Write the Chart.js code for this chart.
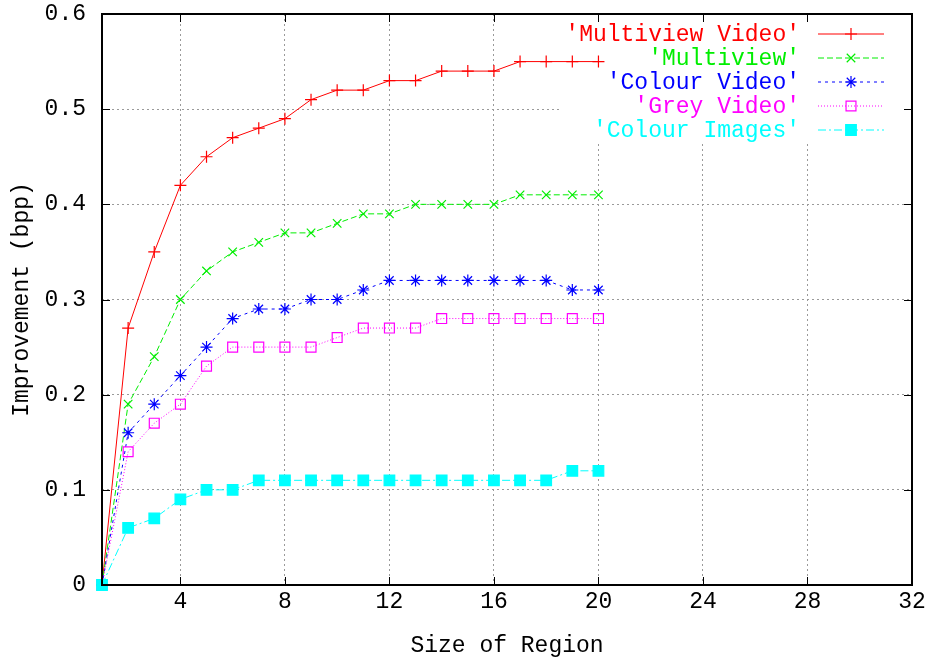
<!DOCTYPE html>
<html>
<head>
<meta charset="utf-8">
<script src="https://cdn.jsdelivr.net/npm/chart.js@4.4.1/dist/chart.umd.min.js"></script>
<style>
  html, body { margin: 0; background: #fff; }
  #wrap { width: 928px; height: 660px; }
</style>
</head>
<body>
<div id="wrap"><canvas id="chart"></canvas></div>
<script>
// values
const regionSizes = [1, 2, 3, 4, 5, 6, 7, 8, 9, 10, 11, 12, 13, 14, 15, 16, 17, 18, 19, 20];
const multiviewVideo = [0, 0.27, 0.35, 0.42, 0.45, 0.47, 0.48, 0.49, 0.51, 0.52, 0.52, 0.53, 0.53, 0.54, 0.54, 0.54, 0.55, 0.55, 0.55, 0.55];
const multiview      = [0, 0.19, 0.24, 0.30, 0.33, 0.35, 0.36, 0.37, 0.37, 0.38, 0.39, 0.39, 0.40, 0.40, 0.40, 0.40, 0.41, 0.41, 0.41, 0.41];
const colourVideo    = [0, 0.16, 0.19, 0.22, 0.25, 0.28, 0.29, 0.29, 0.30, 0.30, 0.31, 0.32, 0.32, 0.32, 0.32, 0.32, 0.32, 0.32, 0.31, 0.31];
const greyVideo      = [0, 0.14, 0.17, 0.19, 0.23, 0.25, 0.25, 0.25, 0.25, 0.26, 0.27, 0.27, 0.27, 0.28, 0.28, 0.28, 0.28, 0.28, 0.28, 0.28];
const colourImages   = [0, 0.06, 0.07, 0.09, 0.10, 0.10, 0.11, 0.11, 0.11, 0.11, 0.11, 0.11, 0.11, 0.11, 0.11, 0.11, 0.11, 0.11, 0.12, 0.12];
const xTickValues = [4, 8, 12, 16, 20, 24, 28, 32];
const yTickValues = [0, 0.1, 0.2, 0.3, 0.4, 0.5, 0.6];

const FONT = "'Liberation Mono', 'Courier New', monospace";
Chart.defaults.font.family = FONT;
Chart.defaults.font.size = 23;
Chart.defaults.color = '#000';

function pts(values) {
  return regionSizes.map((x, i) => ({ x: x, y: values[i] }));
}

const datasets = [
  { label: "'Multiview Video'", data: pts(multiviewVideo), borderColor: '#ff0000', backgroundColor: '#ff0000',
    borderDash: [], pointStyle: 'cross', pointRadius: 6, order: 4 },
  { label: "'Multiview'", data: pts(multiview), borderColor: '#00ee00', backgroundColor: '#00ee00',
    borderDash: [6, 3], pointStyle: 'crossRot', pointRadius: 6, order: 3 },
  { label: "'Colour Video'", data: pts(colourVideo), borderColor: '#0000ff', backgroundColor: '#0000ff',
    borderDash: [3, 4], pointStyle: 'star', pointRadius: 6, order: 2 },
  { label: "'Grey Video'", data: pts(greyVideo), borderColor: '#ff00ff', backgroundColor: 'rgba(0,0,0,0)',
    borderDash: [1, 2], pointStyle: 'rect', pointRadius: 7, order: 1 },
  { label: "'Colour Images'", data: pts(colourImages), borderColor: '#00ffff', backgroundColor: '#00ffff',
    borderDash: [8, 3, 2, 3], pointStyle: 'rect', pointRadius: 7.5, order: 0 }
];
datasets.forEach(d => {
  d.borderWidth = 1;
  d.pointBorderWidth = 1.2;
  d.pointBorderColor = d.borderColor;
  d.pointBackgroundColor = d.backgroundColor;
  d.tension = 0;
  d.clip = 10;
});

// box behind the key (gnuplot clears it before plotting)
const keyBox = { left: 560, bottom: 142 };

const gnuplotFrame = {
  id: 'gnuplotFrame',
  beforeDatasetsDraw(chart) {
    const { ctx, chartArea: a } = chart;
    ctx.save();
    ctx.fillStyle = '#fff';
    ctx.fillRect(keyBox.left, a.top + 1, a.right - keyBox.left - 1, keyBox.bottom - a.top);
    ctx.restore();
  },
  afterDatasetsDraw(chart) {
    const { ctx } = chart;
    const rowY = [34, 58, 82, 106, 130];
    ctx.save();
    ctx.font = '23px ' + FONT;
    ctx.textAlign = 'right';
    ctx.textBaseline = 'middle';
    chart.data.datasets.forEach((d, i) => {
      const y = rowY[i];
      ctx.fillStyle = d.borderColor;
      ctx.fillText(d.label, 800, y + 1);
      ctx.strokeStyle = d.borderColor;
      ctx.lineWidth = 1;
      ctx.setLineDash(d.borderDash);
      ctx.beginPath();
      ctx.moveTo(818, y);
      ctx.lineTo(884, y);
      ctx.stroke();
      ctx.setLineDash([]);
      ctx.fillStyle = d.backgroundColor;
      ctx.strokeStyle = d.borderColor;
      ctx.lineWidth = d.pointBorderWidth;
      Chart.helpers.drawPoint(ctx, {
        pointStyle: d.pointStyle, radius: d.pointRadius, rotation: 0, borderWidth: d.pointBorderWidth
      }, 851, y);
    });
    ctx.restore();
  },
  afterDraw(chart) {
    const { ctx, chartArea: a, scales } = chart;
    ctx.save();
    ctx.strokeStyle = '#000';
    ctx.lineWidth = 1;
    ctx.setLineDash([]);
    ctx.beginPath();
    xTickValues.forEach(v => {
      const x = Math.round(scales.x.getPixelForValue(v)) + 0.5;
      ctx.moveTo(x, a.bottom); ctx.lineTo(x, a.bottom - 8);
      ctx.moveTo(x, a.top); ctx.lineTo(x, a.top + 8);
    });
    yTickValues.forEach(v => {
      const y = Math.round(scales.y.getPixelForValue(v)) + 0.5;
      ctx.moveTo(a.left, y); ctx.lineTo(a.left + 8, y);
      ctx.moveTo(a.right, y); ctx.lineTo(a.right - 8, y);
    });
    ctx.stroke();
    ctx.lineWidth = 2;
    ctx.strokeRect(a.left, a.top, a.right - a.left, a.bottom - a.top);
    ctx.restore();
  }
};

const ctx = document.getElementById('chart').getContext('2d');

new Chart(ctx, {
  type: 'line',
  data: { datasets: datasets },
  options: {
    responsive: true,
    maintainAspectRatio: false,
    animation: false,
    layout: { padding: { top: 14, right: 16, left: 0, bottom: 0 } },
    plugins: {
      legend: { display: false },
      tooltip: { enabled: false }
    },
    scales: {
      x: {
        type: 'linear',
        min: 1,
        max: 32,
        afterBuildTicks: s => { s.ticks = xTickValues.map(v => ({ value: v })); },
        afterFit: s => { s.height = 75; s.paddingLeft = 0; s.paddingRight = 0; },
        ticks: { padding: 3, maxRotation: 0, callback: v => String(v) },
        grid: { color: '#9a9a9a', lineWidth: 1, drawTicks: false },
        border: { display: false, dash: [2, 3] },
        title: { display: true, text: 'Size of Region', padding: { top: 8, bottom: 0 } }
      },
      y: {
        min: 0,
        max: 0.6,
        afterBuildTicks: s => { s.ticks = yTickValues.map(v => ({ value: v })); },
        afterFit: s => { s.width = 102; s.paddingTop = 0; s.paddingBottom = 0; },
        ticks: { padding: 16, callback: v => (v === 0 ? '0' : v.toFixed(1)) },
        grid: { color: '#9a9a9a', lineWidth: 1, drawTicks: false },
        border: { display: false, dash: [2, 3] },
        title: { display: true, text: 'Improvement (bpp)', padding: { top: 8, bottom: 0 } }
      }
    }
  },
  plugins: [gnuplotFrame]
});
</script>
</body>
</html>
